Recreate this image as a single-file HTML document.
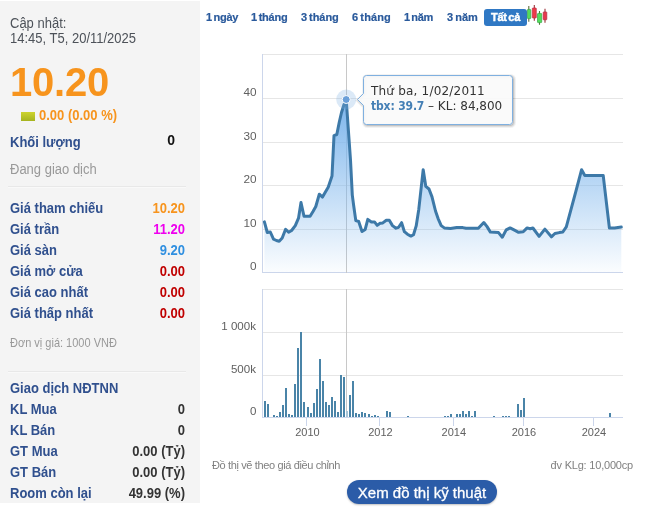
<!DOCTYPE html>
<html lang="vi"><head><meta charset="utf-8"><title>tbx</title>
<style>
html,body{margin:0;padding:0;background:#fff;}
body{width:646px;height:512px;position:relative;overflow:hidden;font-family:"Liberation Sans",sans-serif;}
.left{position:absolute;left:0;top:1px;width:200px;height:502px;background:#f4f4f4;}
.t{position:absolute;white-space:nowrap;line-height:1;}
.lbl{left:10px;font-weight:bold;font-size:13px;color:#30508e;transform:scaleY(1.075);transform-origin:0 11px;}
.val{right:15px;font-weight:bold;font-size:13px;text-align:right;transform:scaleY(1.075);transform-origin:100% 11px;}
.sy{transform:scaleY(1.08);transform-origin:0 84.6%;}
.sep{position:absolute;left:8px;width:178px;height:1px;background:#e8e8e8;border-bottom:1px solid #f9f9f9;}
.tab{position:absolute;top:11px;font-weight:bold;font-size:11px;color:#2a5a9c;white-space:nowrap;line-height:13px;letter-spacing:-0.3px;word-spacing:-1px;-webkit-text-stroke:0.2px #2a5a9c;}
svg text{font-family:"Liberation Sans",sans-serif;}
</style></head><body>
<div class="left">
<div class="t sy" style="left:10px;top:16px;font-size:13px;color:#4d5259;">Cập nhật:</div>
<div class="t sy" style="left:10px;top:31px;font-size:13px;color:#4d5259;">14:45, T5, 20/11/2025</div>
<div class="t" style="left:10px;top:61px;font-size:40px;font-weight:bold;color:#f7941d;transform:scaleY(1.03);transform-origin:0 85%;letter-spacing:-0.2px;">10.20</div>
<div style="position:absolute;left:21px;top:111px;width:14px;height:8.5px;background:linear-gradient(#cdd32e,#a6b41f);"></div>
<div class="t sy" style="left:39px;top:108px;font-size:13px;font-weight:bold;color:#f7941d;">0.00 (0.00 %)</div>
<div class="t lbl" style="top:135px;">Khối lượng</div>
<div class="t sy" style="right:25px;top:132px;font-size:14px;font-weight:bold;color:#111;">0</div>
<div class="t sy" style="left:10px;top:162px;font-size:13px;color:#999;">Đang giao dịch</div>
<div class="sep" style="top:185px;"></div>
<div class="t lbl" style="top:201px;">Giá tham chiếu</div><div class="t val" style="top:201px;color:#f7941d;">10.20</div>
<div class="t lbl" style="top:222px;">Giá trần</div><div class="t val" style="top:222px;color:#ee00ee;">11.20</div>
<div class="t lbl" style="top:243px;">Giá sàn</div><div class="t val" style="top:243px;color:#2f8fe0;">9.20</div>
<div class="t lbl" style="top:264px;">Giá mở cửa</div><div class="t val" style="top:264px;color:#c00000;">0.00</div>
<div class="t lbl" style="top:285px;">Giá cao nhất</div><div class="t val" style="top:285px;color:#c00000;">0.00</div>
<div class="t lbl" style="top:306px;">Giá thấp nhất</div><div class="t val" style="top:306px;color:#c00000;">0.00</div>
<div class="t sy" style="left:10px;top:337px;font-size:11px;color:#999;">Đơn vị giá: 1000 VNĐ</div>
<div class="sep" style="top:370px;"></div>
<div class="t lbl" style="top:381px;">Giao dịch NĐTNN</div>
<div class="t lbl" style="top:402px;">KL Mua</div><div class="t val" style="top:402px;color:#333;">0</div>
<div class="t lbl" style="top:423px;">KL Bán</div><div class="t val" style="top:423px;color:#333;">0</div>
<div class="t lbl" style="top:444px;">GT Mua</div><div class="t val" style="top:444px;color:#333;">0.00 (Tỷ)</div>
<div class="t lbl" style="top:465px;">GT Bán</div><div class="t val" style="top:465px;color:#333;">0.00 (Tỷ)</div>
<div class="t lbl" style="top:486px;">Room còn lại</div><div class="t val" style="top:486px;color:#333;">49.99 (%)</div>
</div>

<div class="tab" style="left:206px;">1 ngày</div>
<div class="tab" style="left:251px;letter-spacing:-0.25px;">1 tháng</div>
<div class="tab" style="left:301px;letter-spacing:-0.05px;">3 tháng</div>
<div class="tab" style="left:352px;letter-spacing:0.1px;">6 tháng</div>
<div class="tab" style="left:404px;letter-spacing:-0.4px;">1 năm</div>
<div class="tab" style="left:447px;letter-spacing:0;">3 năm</div>
<div class="tab" style="left:484px;top:9px;width:43px;height:17px;line-height:17px;background:#2f78c4;color:#fff;border-radius:3px;text-align:center;-webkit-text-stroke:0.4px #fff;">Tất cả</div>
<svg style="position:absolute;left:526px;top:3px;" width="26" height="25" viewBox="526 3 26 25">
<line x1="528.8" y1="5.9" x2="528.8" y2="21.7" stroke="#5d6b3a" stroke-width="1.1"/><rect x="527.4" y="9.4" width="3.4" height="9.2" rx="0.6" fill="#52dd5c" stroke="#3aa544" stroke-width="0.7"/>
<line x1="534.3" y1="5.1" x2="534.3" y2="20.7" stroke="#9a3038" stroke-width="1.1"/><rect x="532.3" y="8" width="4" height="10" rx="0.6" fill="#ee3a4a" stroke="#b83040" stroke-width="0.7"/>
<line x1="539.5" y1="11" x2="539.5" y2="24.8" stroke="#4f7a3a" stroke-width="1.1"/><rect x="537.5" y="13.4" width="4.2" height="9.2" rx="0.6" fill="#52dd5c" stroke="#3aa544" stroke-width="0.7"/>
<line x1="545" y1="8.7" x2="545" y2="22.8" stroke="#9a3038" stroke-width="1.1"/><rect x="543.2" y="11.9" width="3.6" height="7.9" rx="0.6" fill="#e8384c" stroke="#b02c40" stroke-width="0.7"/>
</svg>

<svg style="position:absolute;left:200px;top:40px;" width="446" height="400" viewBox="200 40 446 400">
<defs>
<linearGradient id="ag" x1="0" y1="0" x2="0" y2="1"><stop offset="0" stop-color="#7cb5ec" stop-opacity="1"/><stop offset="1" stop-color="#7cb5ec" stop-opacity="0.03"/></linearGradient>
<clipPath id="pc"><rect x="262" y="54" width="361" height="219"/></clipPath>
</defs>
<!-- price grid -->
<g stroke="#e6e6e6" stroke-width="1" shape-rendering="crispEdges">
<line x1="262" y1="54.5" x2="623" y2="54.5"/>
<line x1="262" y1="98.5" x2="623" y2="98.5"/>
<line x1="262" y1="142.5" x2="623" y2="142.5"/>
<line x1="262" y1="185.5" x2="623" y2="185.5"/>
<line x1="262" y1="229.5" x2="623" y2="229.5"/>
</g>
<line x1="262" y1="272.5" x2="623" y2="272.5" stroke="#ccd6eb" shape-rendering="crispEdges"/>
<line x1="262.5" y1="54" x2="262.5" y2="273" stroke="#ccd6eb" shape-rendering="crispEdges"/>
<g font-size="11" fill="#606060" text-anchor="end" transform="translate(256.5,0) scale(1.07,1) translate(-256.5,0)">
<text x="256.5" y="96">40</text><text x="256.5" y="140">30</text><text x="256.5" y="183">20</text><text x="256.5" y="227">10</text><text x="256.5" y="270">0</text>
</g>
<!-- crosshair -->
<line x1="346.5" y1="54" x2="346.5" y2="273" stroke="#c8c8c8" shape-rendering="crispEdges"/>
<g clip-path="url(#pc)">
<path d="M264.4,272.5 L264.4,221.9 L267.3,232.5 L270.3,232.0 L273.5,239.2 L276.4,240.5 L279.2,241.2 L282.2,238.0 L285.6,229.3 L288.6,232.3 L291.6,230.5 L295.3,225.6 L298.5,218.2 L301.0,202.6 L304.0,216.2 L307.0,216.2 L310.1,216.2 L313.0,211.5 L315.8,206.5 L319.3,194.2 L322.5,197.1 L325.4,192.0 L328.2,187.2 L332.0,176.0 L334.0,135.6 L336.8,134.5 L339.3,122.0 L341.5,112.5 L344.0,104.5 L346.2,99.5 L350.5,160.0 L352.3,195.1 L353.7,205.7 L355.8,220.6 L358.7,221.5 L362.0,231.5 L365.2,229.4 L367.8,219.4 L371.4,221.9 L374.5,221.9 L377.2,225.4 L380.1,223.3 L382.8,222.9 L386.3,220.3 L389.3,220.3 L392.5,225.6 L396.0,228.2 L398.6,227.3 L401.6,222.7 L404.4,231.7 L407.4,234.2 L410.9,236.1 L413.5,234.7 L416.2,225.9 L418.8,209.2 L423.2,169.7 L425.8,186.4 L429.0,189.0 L432.0,196.9 L435.5,211.0 L438.1,218.6 L441.2,225.6 L444.3,227.9 L450.5,228.4 L456.7,227.6 L462.9,227.6 L466.0,228.2 L478.3,228.2 L483.8,222.5 L486.9,226.4 L490.4,232.1 L498.5,232.6 L502.3,237.2 L506.2,229.9 L510.1,227.9 L514.0,229.9 L518.6,232.3 L523.2,231.8 L527.1,227.9 L530.2,228.7 L532.9,228.0 L539.1,236.4 L544.9,229.1 L551.4,236.8 L554.9,233.5 L559.3,232.6 L562.8,232.0 L566.3,226.8 L576.0,190.8 L581.6,169.7 L584.8,175.4 L603.2,175.4 L609.4,228.0 L614.6,228.0 L621.3,227.1 L621.3,272.5 Z" fill="url(#ag)"/>
<polyline points="264.4,221.9 267.3,232.5 270.3,232.0 273.5,239.2 276.4,240.5 279.2,241.2 282.2,238.0 285.6,229.3 288.6,232.3 291.6,230.5 295.3,225.6 298.5,218.2 301.0,202.6 304.0,216.2 307.0,216.2 310.1,216.2 313.0,211.5 315.8,206.5 319.3,194.2 322.5,197.1 325.4,192.0 328.2,187.2 332.0,176.0 334.0,135.6 336.8,134.5 339.3,122.0 341.5,112.5 344.0,104.5 346.2,99.5 350.5,160.0 352.3,195.1 353.7,205.7 355.8,220.6 358.7,221.5 362.0,231.5 365.2,229.4 367.8,219.4 371.4,221.9 374.5,221.9 377.2,225.4 380.1,223.3 382.8,222.9 386.3,220.3 389.3,220.3 392.5,225.6 396.0,228.2 398.6,227.3 401.6,222.7 404.4,231.7 407.4,234.2 410.9,236.1 413.5,234.7 416.2,225.9 418.8,209.2 423.2,169.7 425.8,186.4 429.0,189.0 432.0,196.9 435.5,211.0 438.1,218.6 441.2,225.6 444.3,227.9 450.5,228.4 456.7,227.6 462.9,227.6 466.0,228.2 478.3,228.2 483.8,222.5 486.9,226.4 490.4,232.1 498.5,232.6 502.3,237.2 506.2,229.9 510.1,227.9 514.0,229.9 518.6,232.3 523.2,231.8 527.1,227.9 530.2,228.7 532.9,228.0 539.1,236.4 544.9,229.1 551.4,236.8 554.9,233.5 559.3,232.6 562.8,232.0 566.3,226.8 576.0,190.8 581.6,169.7 584.8,175.4 603.2,175.4 609.4,228.0 614.6,228.0 621.3,227.1" fill="none" stroke="#3d79a8" stroke-width="3" stroke-linejoin="round" stroke-linecap="round"/>
</g>
<circle cx="346.2" cy="99.5" r="10" fill="#7cb0e4" fill-opacity="0.28"/>
<circle cx="346.2" cy="99.5" r="4" fill="#6a9fd8" stroke="#fff" stroke-width="1"/>
<!-- volume -->
<g stroke="#e6e6e6" stroke-width="1" shape-rendering="crispEdges">
<line x1="262" y1="289.5" x2="623" y2="289.5"/>
<line x1="262" y1="332.5" x2="623" y2="332.5"/>
<line x1="262" y1="375.5" x2="623" y2="375.5"/>
</g>
<line x1="262.5" y1="289" x2="262.5" y2="417" stroke="#ccd6eb" shape-rendering="crispEdges"/>
<line x1="346.5" y1="289" x2="346.5" y2="417" stroke="#c8c8c8" shape-rendering="crispEdges"/>
<g shape-rendering="crispEdges"><rect x="263.9" y="401.2" width="2" height="15.8" fill="#4a84a8"/><rect x="267.0" y="404.1" width="2" height="12.9" fill="#4a84a8"/><rect x="272.9" y="415.0" width="2" height="2.0" fill="#4a84a8"/><rect x="276.0" y="415.8" width="2" height="1.2" fill="#4a84a8"/><rect x="278.9" y="411.9" width="2" height="5.1" fill="#4a84a8"/><rect x="281.9" y="405.1" width="2" height="11.9" fill="#4a84a8"/><rect x="285.0" y="388.1" width="2" height="28.9" fill="#4a84a8"/><rect x="287.9" y="414.0" width="2" height="3.0" fill="#4a84a8"/><rect x="290.8" y="414.8" width="2" height="2.2" fill="#4a84a8"/><rect x="294.0" y="384.0" width="2" height="33.0" fill="#4a84a8"/><rect x="296.9" y="348.0" width="2" height="69.0" fill="#4a84a8"/><rect x="300.0" y="332.2" width="2" height="84.8" fill="#4a84a8"/><rect x="302.9" y="402.1" width="2" height="14.9" fill="#4a84a8"/><rect x="306.9" y="407.0" width="2" height="10.0" fill="#4a84a8"/><rect x="310.0" y="412.9" width="2" height="4.1" fill="#4a84a8"/><rect x="312.9" y="403.1" width="2" height="13.9" fill="#4a84a8"/><rect x="316.0" y="389.1" width="2" height="27.9" fill="#4a84a8"/><rect x="319.0" y="359.2" width="2" height="57.8" fill="#4a84a8"/><rect x="321.9" y="381.0" width="2" height="36.0" fill="#4a84a8"/><rect x="325.0" y="402.1" width="2" height="14.9" fill="#4a84a8"/><rect x="327.9" y="405.0" width="2" height="12.0" fill="#4a84a8"/><rect x="330.9" y="397.3" width="2" height="19.7" fill="#4a84a8"/><rect x="334.0" y="401.2" width="2" height="15.8" fill="#4a84a8"/><rect x="337.0" y="411.9" width="2" height="5.1" fill="#4a84a8"/><rect x="340.1" y="375.2" width="2" height="41.8" fill="#4a84a8"/><rect x="343.0" y="377.1" width="2" height="39.9" fill="#4a84a8"/><rect x="345.9" y="410.9" width="2" height="6.1" fill="#a6c4d6"/><rect x="349.0" y="394.9" width="2" height="22.1" fill="#4a84a8"/><rect x="352.0" y="381.0" width="2" height="36.0" fill="#4a84a8"/><rect x="355.1" y="412.9" width="2" height="4.1" fill="#4a84a8"/><rect x="358.0" y="413.9" width="2" height="3.1" fill="#4a84a8"/><rect x="361.0" y="411.9" width="2" height="5.1" fill="#4a84a8"/><rect x="364.1" y="412.9" width="2" height="4.1" fill="#4a84a8"/><rect x="368.0" y="413.9" width="2" height="3.1" fill="#4a84a8"/><rect x="370.9" y="415.8" width="2" height="1.2" fill="#4a84a8"/><rect x="374.0" y="414.8" width="2" height="2.2" fill="#4a84a8"/><rect x="377.0" y="415.8" width="2" height="1.2" fill="#4a84a8"/><rect x="386.0" y="410.9" width="2" height="6.1" fill="#4a84a8"/><rect x="389.1" y="411.9" width="2" height="5.1" fill="#4a84a8"/><rect x="407.0" y="415.8" width="2" height="1.2" fill="#4a84a8"/><rect x="444.0" y="415.8" width="2" height="1.2" fill="#4a84a8"/><rect x="446.9" y="415.8" width="2" height="1.2" fill="#4a84a8"/><rect x="450.0" y="413.9" width="2" height="3.1" fill="#4a84a8"/><rect x="456.1" y="414.1" width="2" height="2.9" fill="#4a84a8"/><rect x="459.0" y="414.1" width="2" height="2.9" fill="#4a84a8"/><rect x="461.9" y="410.9" width="2" height="6.1" fill="#4a84a8"/><rect x="465.1" y="414.1" width="2" height="2.9" fill="#4a84a8"/><rect x="468.0" y="410.9" width="2" height="6.1" fill="#4a84a8"/><rect x="470.9" y="415.8" width="2" height="1.2" fill="#4a84a8"/><rect x="474.0" y="410.9" width="2" height="6.1" fill="#4a84a8"/><rect x="493.0" y="415.8" width="2" height="1.2" fill="#4a84a8"/><rect x="502.0" y="415.8" width="2" height="1.2" fill="#4a84a8"/><rect x="504.9" y="415.8" width="2" height="1.2" fill="#4a84a8"/><rect x="508.0" y="415.8" width="2" height="1.2" fill="#4a84a8"/><rect x="517.0" y="404.1" width="2" height="12.9" fill="#4a84a8"/><rect x="519.9" y="410.0" width="2" height="7.0" fill="#4a84a8"/><rect x="523.1" y="398.2" width="2" height="18.8" fill="#4a84a8"/><rect x="609.0" y="412.9" width="2" height="4.1" fill="#4a84a8"/></g>
<line x1="262" y1="417.5" x2="623" y2="417.5" stroke="#ccd6eb" shape-rendering="crispEdges"/>
<g stroke="#ccd6eb" shape-rendering="crispEdges">
<line x1="306.5" y1="417" x2="306.5" y2="426"/><line x1="379.5" y1="417" x2="379.5" y2="426"/><line x1="453.5" y1="417" x2="453.5" y2="426"/><line x1="523.5" y1="417" x2="523.5" y2="426"/><line x1="593.5" y1="417" x2="593.5" y2="426"/>
</g>
<g font-size="11" fill="#606060" text-anchor="end" transform="translate(256.5,0) scale(1.05,1) translate(-256.5,0)">
<text x="256" y="330">1 000k</text><text x="256" y="373">500k</text><text x="256.5" y="415">0</text>
</g>
<g font-size="11" fill="#606060" text-anchor="middle">
<text x="307.4" y="436">2010</text><text x="380.4" y="436">2012</text><text x="453.8" y="436">2014</text><text x="524" y="436">2016</text><text x="594" y="436">2024</text>
</g>
<!-- tooltip -->
<g>
<path d="M366.5,75.5 H509.5 a3,3 0 0 1 3,3 V121.5 a3,3 0 0 1 -3,3 H366.5 a3,3 0 0 1 -3,-3 V105.5 L357.5,99.5 L363.5,93.5 V78.5 a3,3 0 0 1 3,-3 Z" fill="none" stroke="#000" stroke-opacity="0.05" stroke-width="5" transform="translate(1,1)"/>
<path d="M366.5,75.5 H509.5 a3,3 0 0 1 3,3 V121.5 a3,3 0 0 1 -3,3 H366.5 a3,3 0 0 1 -3,-3 V105.5 L357.5,99.5 L363.5,93.5 V78.5 a3,3 0 0 1 3,-3 Z" fill="none" stroke="#000" stroke-opacity="0.08" stroke-width="3" transform="translate(1,1)"/>
<path d="M366.5,75.5 H509.5 a3,3 0 0 1 3,3 V121.5 a3,3 0 0 1 -3,3 H366.5 a3,3 0 0 1 -3,-3 V105.5 L357.5,99.5 L363.5,93.5 V78.5 a3,3 0 0 1 3,-3 Z" fill="none" stroke="#000" stroke-opacity="0.12" stroke-width="1" transform="translate(1,1)"/>
<path d="M366.5,75.5 H509.5 a3,3 0 0 1 3,3 V121.5 a3,3 0 0 1 -3,3 H366.5 a3,3 0 0 1 -3,-3 V105.5 L357.5,99.5 L363.5,93.5 V78.5 a3,3 0 0 1 3,-3 Z" fill="#fafafa" fill-opacity="0.92" stroke="#7fb0e0" stroke-width="1"/>
<text x="371" y="95" font-size="12" fill="#333" letter-spacing="0.2" style="font-family:'DejaVu Sans',sans-serif;">Thứ ba, 1/02/2011</text>
<text x="371" y="109.5" font-size="12" fill="#333" style="font-family:'DejaVu Sans',sans-serif;"><tspan fill="#447fb5" font-weight="bold" letter-spacing="-0.15" style="font-family:'DejaVu Sans Condensed','DejaVu Sans',sans-serif;">tbx: 39.7</tspan> – KL: 84,800</text>
</g>
</svg>

<div class="t" style="left:212px;top:460px;font-size:11px;color:#808080;letter-spacing:-0.37px;">Đồ thị vẽ theo giá điều chỉnh</div>
<div class="t" style="right:13px;top:460px;font-size:11px;color:#808080;letter-spacing:-0.2px;">đv KLg: 10,000cp</div>
<div style="position:absolute;left:347px;top:480px;width:150px;height:24px;border-radius:12px;background:#2b5ca8;color:#fff;font-size:15px;line-height:25px;text-align:center;white-space:nowrap;box-shadow:0 1px 2px rgba(0,0,0,.25);-webkit-text-stroke:0.3px #fff;">Xem đồ thị kỹ thuật</div>
</body></html>
